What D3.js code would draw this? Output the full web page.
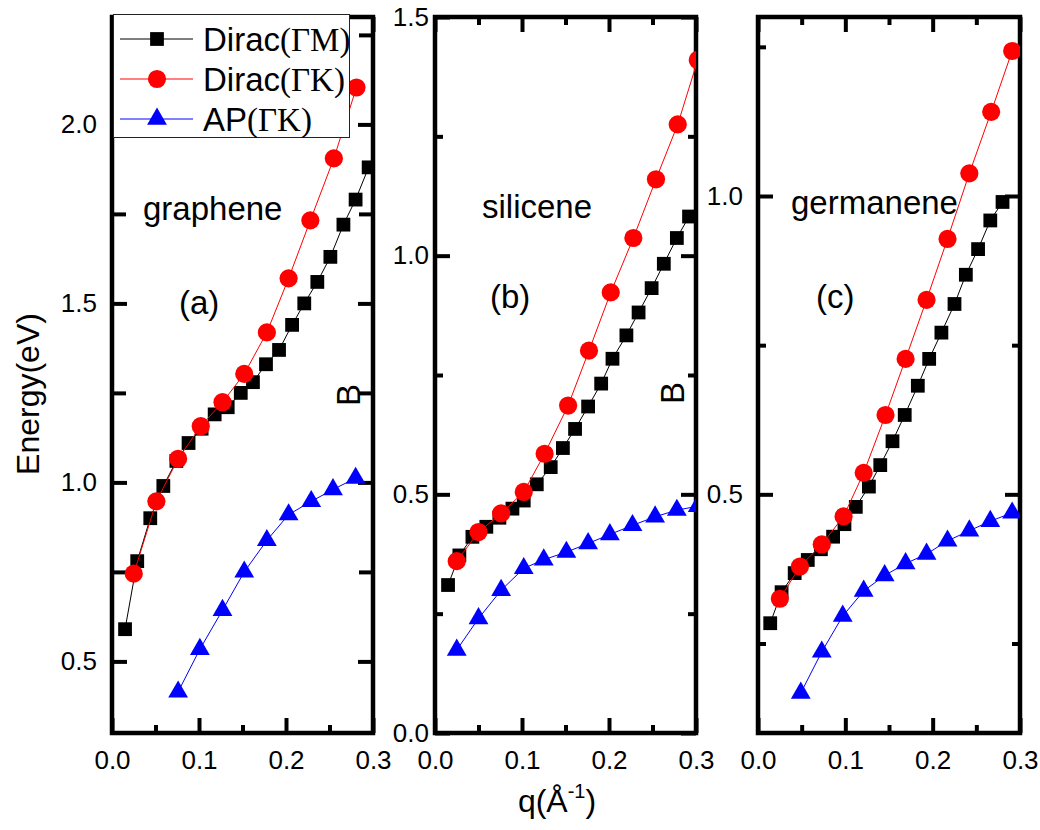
<!DOCTYPE html>
<html>
<head>
<meta charset="utf-8">
<script src="https://cdn.jsdelivr.net/npm/d3@7"></script>
<style>
body { margin: 0; background: #fff; }
</style>
</head>
<body>
<script>
/* plasmon dispersion, three panels */

// (a) graphene
var qGM_a = [0.015, 0.029, 0.044, 0.059, 0.074, 0.088, 0.103, 0.118, 0.133, 0.148, 0.162, 0.177, 0.192, 0.207, 0.221, 0.236, 0.251, 0.266, 0.280, 0.295];
var eGM_a = [0.59, 0.78, 0.90, 0.99, 1.06, 1.11, 1.15, 1.19, 1.21, 1.25, 1.28, 1.33, 1.37, 1.44, 1.50, 1.56, 1.63, 1.72, 1.79, 1.88];
var qGK_a = [0.025, 0.051, 0.076, 0.102, 0.127, 0.152, 0.178, 0.203, 0.228, 0.255, 0.281];
var eGK_a = [0.745, 0.947, 1.066, 1.157, 1.224, 1.303, 1.419, 1.570, 1.732, 1.905, 2.103];
var qAP_a = [0.076, 0.101, 0.127, 0.152, 0.178, 0.203, 0.229, 0.254, 0.280];
var eAP_a = [0.415, 0.534, 0.643, 0.750, 0.838, 0.910, 0.947, 0.980, 1.012];

// (b) silicene
var qGM_b = [0.015, 0.028, 0.043, 0.059, 0.074, 0.089, 0.102, 0.117, 0.133, 0.147, 0.161, 0.176, 0.191, 0.204, 0.220, 0.234, 0.249, 0.263, 0.278, 0.292];
var eGM_b = [0.310, 0.372, 0.411, 0.432, 0.451, 0.470, 0.487, 0.521, 0.557, 0.597, 0.637, 0.684, 0.732, 0.784, 0.833, 0.881, 0.932, 0.983, 1.037, 1.082];
var qGK_b = [0.025, 0.050, 0.076, 0.102, 0.126, 0.153, 0.177, 0.202, 0.228, 0.254, 0.279, 0.302];
var eGK_b = [0.360, 0.421, 0.460, 0.505, 0.585, 0.686, 0.801, 0.923, 1.037, 1.160, 1.275, 1.41];
var qAP_b = [0.025, 0.050, 0.076, 0.102, 0.125, 0.151, 0.176, 0.201, 0.227, 0.253, 0.278, 0.302];
var eAP_b = [0.174, 0.240, 0.299, 0.345, 0.363, 0.379, 0.397, 0.416, 0.435, 0.453, 0.467, 0.475];

// (c) germanene
var qGM_c = [0.014, 0.027, 0.042, 0.057, 0.072, 0.086, 0.099, 0.112, 0.127, 0.140, 0.154, 0.168, 0.183, 0.196, 0.210, 0.225, 0.238, 0.252, 0.266, 0.280];
var eGM_c = [0.284, 0.336, 0.368, 0.390, 0.408, 0.429, 0.450, 0.479, 0.513, 0.549, 0.589, 0.633, 0.682, 0.727, 0.771, 0.819, 0.868, 0.911, 0.959, 0.990];
var qGK_c = [0.025, 0.048, 0.073, 0.098, 0.121, 0.146, 0.169, 0.193, 0.217, 0.242, 0.267, 0.291];
var eGK_c = [0.325, 0.379, 0.416, 0.463, 0.536, 0.633, 0.727, 0.826, 0.928, 1.038, 1.141, 1.243];
var qAP_c = [0.049, 0.073, 0.097, 0.121, 0.145, 0.169, 0.193, 0.217, 0.242, 0.266, 0.291];
var eAP_c = [0.167, 0.236, 0.296, 0.338, 0.364, 0.384, 0.400, 0.422, 0.439, 0.455, 0.469];

// ticks
var xMajor = [0.0, 0.1, 0.2, 0.3];
var xMinor = [0.05, 0.15, 0.25];
var legendNames = [["Dirac", "(\u0393M)"], ["Dirac", "(\u0393K)"], ["AP", "(\u0393K)"]];

var sans = "'Liberation Sans', Arial, Helvetica, sans-serif";
var serif = "'Liberation Serif', 'Times New Roman', serif";

var svg = d3.select("body").append("svg")
    .attr("width", 1040)
    .attr("height", 830)
    .style("font-family", sans);

svg.append("rect").attr("width", 1040).attr("height", 830).attr("fill", "#fff");

var styles = [
    { color: "#000000", symbol: d3.symbolSquare, size: 190 },
    { color: "#ff0000", symbol: d3.symbolCircle, size: 260 },
    { color: "#0000ff", symbol: d3.symbolTriangle, size: 170 }
];

var panels = [
    { id: "a", left: 112, right: 373, top: 17, bottom: 733, yDom: [0.3, 2.3],
      yMajor: [0.5, 1.0, 1.5, 2.0], yMinor: [0.75, 1.25, 1.75, 2.25], minorLen: 14, labelPad: 15,
      series: [[qGM_a, eGM_a], [qGK_a, eGK_a], [qAP_a, eAP_a]],
      name: "graphene", nameX: 143, nameY: 220, tag: "(a)", tagX: 179, tagY: 314, bX: 348, bY: 395 },
    { id: "b", left: 435, right: 696, top: 17, bottom: 733, yDom: [0, 1.5],
      yMajor: [0.0, 0.5, 1.0, 1.5], yMinor: [0.25, 0.75, 1.25], minorLen: 8, labelPad: 6,
      series: [[qGM_b, eGM_b], [qGK_b, eGK_b], [qAP_b, eAP_b]],
      name: "silicene", nameX: 482, nameY: 218, tag: "(b)", tagX: 490, tagY: 308, bX: 672, bY: 393 },
    { id: "c", left: 758, right: 1020, top: 17, bottom: 733, yDom: [0.1, 1.3],
      yMajor: [0.5, 1.0], yMinor: [0.25, 0.75, 1.25], minorLen: 8, labelPad: 15,
      series: [[qGM_c, eGM_c], [qGK_c, eGK_c], [qAP_c, eAP_c]],
      name: "germanene", nameX: 791, nameY: 214, tag: "(c)", tagX: 816, tagY: 308 }
];

function styleAxis(g) {
    g.select(".domain").remove();
    g.selectAll(".tick line").attr("stroke", "#000").attr("stroke-width", 4);
    g.selectAll(".tick text").attr("font-size", 26).attr("font-family", sans).attr("fill", "#000");
}

panels.forEach(function(p) {
    var x = d3.scaleLinear().domain([0, 0.3]).range([p.left, p.right]);
    var y = d3.scaleLinear().domain(p.yDom).range([p.bottom, p.top]);
    var g = svg.append("g");

    // clip for data
    g.append("clipPath").attr("id", "clip-" + p.id)
      .append("rect")
        .attr("x", p.left).attr("y", p.top)
        .attr("width", p.right - p.left).attr("height", p.bottom - p.top);

    var fmt = d3.format(".1f");

    // bottom
    g.append("g").attr("transform", "translate(0," + p.bottom + ")")
        .call(d3.axisBottom(x).tickValues(xMajor).tickSize(-15).tickPadding(18).tickFormat(fmt))
        .call(styleAxis);
    g.append("g").attr("transform", "translate(0," + p.bottom + ")")
        .call(d3.axisBottom(x).tickValues(xMinor).tickSize(-8).tickFormat(""))
        .call(styleAxis);
    // top
    g.append("g").attr("transform", "translate(0," + p.top + ")")
        .call(d3.axisTop(x).tickValues(xMajor).tickSize(-15).tickFormat(""))
        .call(styleAxis);
    g.append("g").attr("transform", "translate(0," + p.top + ")")
        .call(d3.axisTop(x).tickValues(xMinor).tickSize(-8).tickFormat(""))
        .call(styleAxis);
    // left
    g.append("g").attr("transform", "translate(" + p.left + ",0)")
        .call(d3.axisLeft(y).tickValues(p.yMajor).tickSize(-15).tickPadding(p.labelPad).tickFormat(fmt))
        .call(styleAxis);
    g.append("g").attr("transform", "translate(" + p.left + ",0)")
        .call(d3.axisLeft(y).tickValues(p.yMinor).tickSize(-p.minorLen).tickFormat(""))
        .call(styleAxis);
    // right
    g.append("g").attr("transform", "translate(" + p.right + ",0)")
        .call(d3.axisRight(y).tickValues(p.yMajor).tickSize(-15).tickFormat(""))
        .call(styleAxis);
    g.append("g").attr("transform", "translate(" + p.right + ",0)")
        .call(d3.axisRight(y).tickValues(p.yMinor).tickSize(-p.minorLen).tickFormat(""))
        .call(styleAxis);

    // frame
    g.append("rect")
        .attr("x", p.left).attr("y", p.top)
        .attr("width", p.right - p.left).attr("height", p.bottom - p.top)
        .attr("fill", "none").attr("stroke", "#000").attr("stroke-width", 4.5);

    // data
    var dg = g.append("g").attr("clip-path", "url(#clip-" + p.id + ")");
    p.series.forEach(function(s, i) {
        var pts = s[0].map(function(q, k) { return [q, s[1][k]]; });
        var st = styles[i];
        dg.append("path")
            .datum(pts)
            .attr("fill", "none")
            .attr("stroke", st.color)
            .attr("stroke-width", 1)
            .attr("d", d3.line().x(function(d) { return x(d[0]); }).y(function(d) { return y(d[1]); }));
        dg.selectAll(null)
            .data(pts)
            .enter()
            .append("path")
            .attr("d", d3.symbol().type(st.symbol).size(st.size))
            .attr("transform", function(d) { return "translate(" + x(d[0]) + "," + y(d[1]) + ")"; })
            .attr("fill", st.color);
    });

    // labels
    g.append("text").attr("x", p.nameX).attr("y", p.nameY)
        .attr("font-size", 33).text(p.name);
    g.append("text").attr("x", p.tagX).attr("y", p.tagY)
        .attr("font-size", 33).text(p.tag);
    if (p.bX) {
        g.append("text")
            .attr("transform", "translate(" + p.bX + "," + p.bY + ") rotate(-90)")
            .attr("text-anchor", "middle")
            .attr("dominant-baseline", "central")
            .attr("font-size", 33).text("B");
    }
});

// axis titles
svg.append("text")
    .attr("transform", "translate(39,394) rotate(-90)")
    .attr("text-anchor", "middle")
    .attr("font-size", 32)
    .text("Energy(eV)");

var xt = svg.append("text")
    .attr("x", 557).attr("y", 812)
    .attr("text-anchor", "middle")
    .attr("font-size", 32);
xt.append("tspan").text("q(\u00c5");
xt.append("tspan").attr("font-size", 20).attr("dy", -14).text("-1");
xt.append("tspan").attr("dy", 14).text(")");

// legend
var lg = svg.append("g");
lg.append("rect")
    .attr("x", 113.5).attr("y", 14.5)
    .attr("width", 236).attr("height", 123)
    .attr("fill", "#fff").attr("stroke", "#222").attr("stroke-width", 1);
var rowY = [39, 79, 119];
legendNames.forEach(function(n, i) {
    var st = styles[i];
    lg.append("line")
        .attr("x1", 120).attr("x2", 193)
        .attr("y1", rowY[i]).attr("y2", rowY[i])
        .attr("stroke", st.color).attr("stroke-width", 1);
    lg.append("path")
        .attr("d", d3.symbol().type(st.symbol).size(st.size))
        .attr("transform", "translate(157," + rowY[i] + ")")
        .attr("fill", st.color);
    var t = lg.append("text")
        .attr("x", 203).attr("y", rowY[i] + 12)
        .attr("font-size", 33);
    t.append("tspan").text(n[0]);
    t.append("tspan").attr("font-family", serif).text(n[1]);
});
</script>
</body>
</html>
